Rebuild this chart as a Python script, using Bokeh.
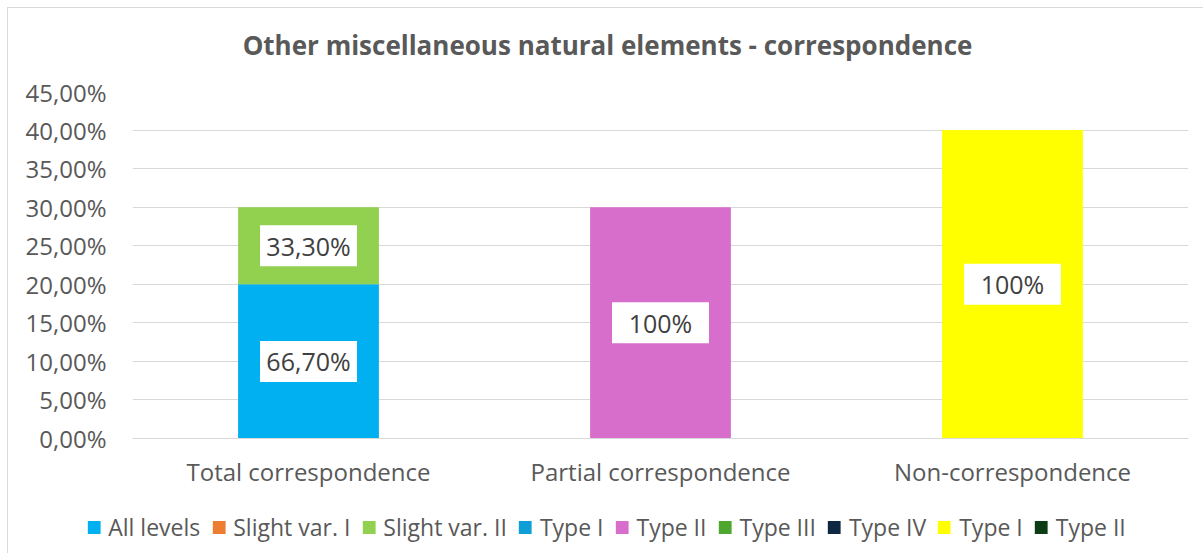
from bokeh.plotting import figure
from bokeh.layouts import column
from bokeh.models import (FactorRange, ColumnDataSource, Legend, LegendItem, Label,
                          CustomJSTickFormatter, SingleIntervalTicker, Range1d)
from bokeh.core.properties import value
from bokeh.embed import file_html
from bokeh.resources import INLINE

title_text = "Other miscellaneous natural elements - correspondence"
categories = ["Total correspondence", "Partial correspondence", "Non-correspondence"]

series_names = ["All levels", "Slight var. I", "Slight var. II", "Type I", "Type II",
                "Type III", "Type IV", "Type I", "Type II"]
series_colors = ["#00B0F0", "#ED7D31", "#92D050", "#0F9ED5", "#D86ECC",
                 "#4EA72E", "#0E2841", "#FFFF00", "#0C3D14"]
# values (percent) per series, per category
series_values = [
    [20.0, 0.0, 0.0],   # All levels
    [0.0, 0.0, 0.0],    # Slight var. I
    [10.0, 0.0, 0.0],   # Slight var. II
    [0.0, 0.0, 0.0],    # Type I
    [0.0, 30.0, 0.0],   # Type II
    [0.0, 0.0, 0.0],    # Type III
    [0.0, 0.0, 0.0],    # Type IV
    [0.0, 0.0, 40.0],   # Type I
    [0.0, 0.0, 0.0],    # Type II
]
# data labels per series, per category (share within the bar)
series_labels = [
    ["66,70%", "", ""],
    ["", "", ""],
    ["33,30%", "", ""],
    ["", "", ""],
    ["", "100%", ""],
    ["", "", ""],
    ["", "", ""],
    ["", "", "100%"],
    ["", "", ""],
]

FONT = "Open Sans"
GRAY = "#595959"


def strip(h):
    f = figure(width=1195, height=h, output_backend="svg", toolbar_location=None,
               x_axis_location=None, y_axis_location=None,
               x_range=Range1d(0, 1), y_range=Range1d(0, 1),
               min_border=0, min_border_left=0, min_border_right=0,
               min_border_top=0, min_border_bottom=0)
    f.outline_line_color = None
    f.grid.visible = False
    f.background_fill_color = "white"
    f.border_fill_color = "white"
    return f


# title strip (its frame is aligned with the chart frame)
tfig = strip(67)
tfig.add_layout(Label(x=475, y=31, x_units="screen", y_units="screen", text=title_text,
                      text_align="center", text_baseline="middle", text_font=FONT,
                      text_font_size="26px", text_font_style="bold", text_color=GRAY))

# main chart
p = figure(x_range=FactorRange(*categories), y_range=(0, 45),
           frame_width=1056, frame_height=347, output_backend="svg", toolbar_location=None,
           min_border_left=124, min_border_right=15, min_border_bottom=62,
           min_border_top=16)
p.outline_line_color = None
p.background_fill_color = "white"
p.border_fill_color = "white"

# legend strip
leg = strip(53)

items = []
bottoms = [0.0] * len(categories)
label_x, label_y, label_t = [], [], []
for name, color, vals, labs in zip(series_names, series_colors, series_values, series_labels):
    tops = [b + v for b, v in zip(bottoms, vals)]
    src = ColumnDataSource(dict(x=categories, bottom=bottoms, top=tops))
    p.vbar(x="x", bottom="bottom", top="top", width=0.4, source=src,
           fill_color=color, line_color=None)
    r2 = leg.vbar(x=[0.5], bottom=[0], top=[0], width=0.1,
                  fill_color=color, line_color=None)
    items.append(LegendItem(label=name, renderers=[r2]))
    for c, b, t, lab in zip(categories, bottoms, tops, labs):
        if lab:
            label_x.append(c)
            label_y.append((b + t) / 2)
            label_t.append(lab)
    bottoms = tops

lsrc = ColumnDataSource(dict(x=label_x, y=label_y, t=label_t))
p.rect(x="x", y="y", width=97, height=41, width_units="screen", height_units="screen",
       source=lsrc, fill_color="white", line_color=None)
p.text(x="x", y="y", text="t", source=lsrc, text_align="center", text_baseline="middle",
       text_font=value(FONT), text_font_size="25px", text_color="#404040")

p.yaxis.ticker = SingleIntervalTicker(interval=5)
p.yaxis.formatter = CustomJSTickFormatter(code="return tick.toFixed(2).replace('.', ',') + '%';")
p.yaxis.axis_line_color = None
p.yaxis.major_tick_line_color = None
p.yaxis.minor_tick_line_color = None
p.yaxis.major_label_text_font = FONT
p.yaxis.major_label_text_font_size = "24px"
p.yaxis.major_label_text_color = GRAY
p.yaxis.major_label_standoff = 20

p.xaxis.axis_line_color = "#D9D9D9"
p.xaxis.major_tick_line_color = None
p.xaxis.minor_tick_line_color = None
p.xaxis.major_label_text_font = FONT
p.xaxis.major_label_text_font_size = "24px"
p.xaxis.major_label_text_color = GRAY
p.xaxis.major_label_standoff = 10

p.xgrid.grid_line_color = None
p.ygrid.grid_line_color = "#D9D9D9"
p.x_range.range_padding = 0
p.x_range.group_padding = 0

legend = Legend(items=items, orientation="horizontal", location="center",
                label_text_font=FONT, label_text_font_size="23px", label_text_color=GRAY,
                glyph_width=16, glyph_height=16, spacing=10, label_standoff=7,
                border_line_color=None, background_fill_alpha=0,
                margin=0, padding=0)
leg.add_layout(legend, "center")

layout = column(column(tfig, p, spacing=0), leg, spacing=0)
layout.styles = {"margin-left": "7px", "margin-top": "7px",
                 "border-left": "1px solid #D9D9D9", "border-top": "1px solid #D9D9D9"}

open("out.html", "w").write(file_html(layout, INLINE))
